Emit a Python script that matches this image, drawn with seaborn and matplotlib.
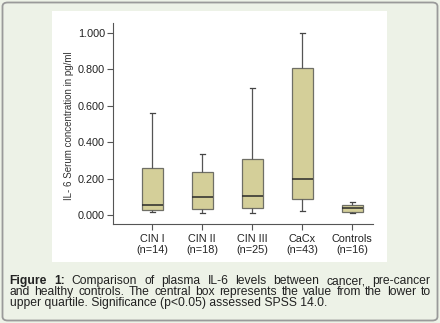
import numpy as np
import pandas as pd
import matplotlib
matplotlib.use("Agg")
import matplotlib.pyplot as plt
from matplotlib.patches import FancyBboxPatch, Rectangle
import seaborn as sns

# ---- data: lower whisker, Q1, median, Q3, upper whisker
categories = ["CIN I", "CIN II", "CIN III", "CaCx", "Controls"]
n_labels = ["(n=14)", "(n=18)", "(n=25)", "(n=43)", "(n=16)"]
cin1 = [0.015, 0.026, 0.053, 0.260, 0.562]
cin2 = [0.013, 0.031, 0.099, 0.235, 0.335]
cin3 = [0.013, 0.037, 0.104, 0.306, 0.700]
cacx = [0.020, 0.086, 0.198, 0.808, 0.998]
controls = [0.013, 0.018, 0.040, 0.057, 0.070]
yticks = [0.0, 0.2, 0.4, 0.6, 0.8, 1.0]
ylabel = "IL- 6 Serum concentration in pg/ml"
caption1 = "Comparison of plasma IL-6 levels between cancer, pre-cancer"
caption2 = "and healthy controls. The central box represents the value from the lower to"
caption3 = "upper quartile. Significance (p<0.05) assessed SPSS 14.0."

series = [cin1, cin2, cin3, cacx, controls]
df = pd.DataFrame({
    "group": np.repeat(categories, [len(s) for s in series]),
    "value": np.concatenate(series),
})

W, H = 440, 323
fig = plt.figure(figsize=(W / 100, H / 100), dpi=100)
fig.patch.set_facecolor("#edf2e7")

def fx(px):
    return px / W

def fy(py):
    return 1 - py / H

# rounded outer border
border = FancyBboxPatch((fx(2.5), fy(320.5)), fx(435), 318 / H,
                        boxstyle="round,pad=0,rounding_size=0.012",
                        transform=fig.transFigure, facecolor="#edf2e7",
                        edgecolor="#9a9a9a", linewidth=1.3, zorder=-3)
fig.patches.append(border)
# white chart panel
panel = Rectangle((fx(51.7), fy(261.7)), fx(335), 251 / H,
                  transform=fig.transFigure, facecolor="white",
                  edgecolor="none", zorder=-2)
fig.patches.append(panel)

ax = fig.add_axes([fx(112.7), fy(224), fx(260.3), 201.3 / H])
ax.set_facecolor("none")

sns.boxplot(data=df, x="group", y="value", order=categories, ax=ax,
            whis=np.inf, width=0.42, color="#d4cf99", saturation=1,
            linecolor="#6f6f66", linewidth=0.9, showfliers=False,
            medianprops=dict(color="#2a2a2a", linewidth=1.1),
            whiskerprops=dict(color="#555555", linewidth=0.9),
            capprops=dict(color="#444444", linewidth=0.9),
            capwidths=0.1)

ax.set_ylim(-0.0495, 1.0566)
ax.set_xlim(-0.786, 4.42)
ax.set_yticks(yticks)
ax.set_yticklabels([f"{v:.3f}" for v in yticks])
ax.set_xticks(range(len(categories)))
ax.set_xticklabels([f"{c}\n{n}" for c, n in zip(categories, n_labels)],
                   linespacing=1.12)
for lab in ax.get_xticklabels() + ax.get_yticklabels():
    lab.set_fontfamily("Liberation Sans")
    lab.set_fontsize(7.8)
    lab.set_color("#222222")
ax.tick_params(axis="y", length=4.5, width=0.8, color="#555555", pad=1)
ax.tick_params(axis="x", length=4.5, width=0.8, color="#555555", pad=2.5)
ax.set_xlabel("")
ax.set_ylabel(ylabel, fontfamily="Liberation Sans", fontsize=7.0, color="#333333")
ax.yaxis.set_label_coords(-0.148, 0.49)
for side in ["top", "right"]:
    ax.spines[side].set_visible(False)
for side in ["left", "bottom"]:
    ax.spines[side].set_color("#555555")
    ax.spines[side].set_linewidth(0.8)

# caption with justified lines
fs = 8.7
fam = "Liberation Sans"
x0, x1 = 9.5, 430.5
fig.canvas.draw()
renderer = fig.canvas.get_renderer()

def justify(words, weights, ypx):
    texts = []
    for w, wt in zip(words, weights):
        t = fig.text(0, fy(ypx), w, fontsize=fs, family=fam, fontweight=wt,
                     color="#222222", va="center", ha="left", zorder=5)
        texts.append(t)
    widths = [t.get_window_extent(renderer).width for t in texts]
    gap = ((x1 - x0) - sum(widths)) / (len(words) - 1)
    x = x0
    for t, wd in zip(texts, widths):
        t.set_x(fx(x))
        x += wd + gap

w1 = ["Figure", "1:"] + caption1.split()
justify(w1, ["bold", "bold"] + ["normal"] * (len(w1) - 2), 281)
w2 = caption2.split()
justify(w2, ["normal"] * len(w2), 292.3)
fig.text(fx(x0), fy(303.3), caption3, fontsize=fs, family=fam,
         color="#222222", va="center", ha="left", zorder=5)

fig.savefig("out.png", dpi=100, facecolor=fig.get_facecolor())
